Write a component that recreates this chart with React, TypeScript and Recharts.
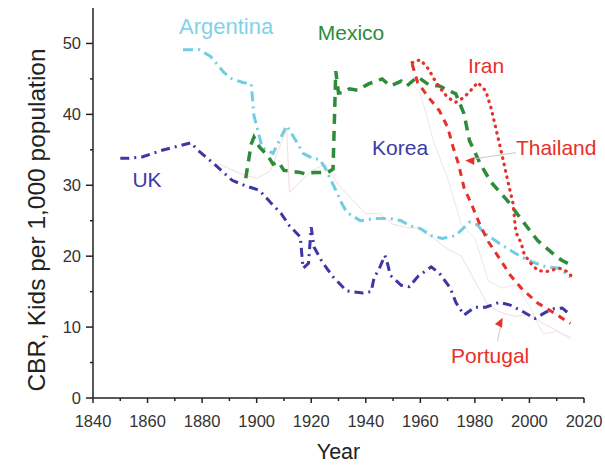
import { LineChart, Line, XAxis, YAxis, ReferenceDot, ReferenceLine } from "recharts";

const ukYears = [1850, 1853, 1858, 1865, 1872, 1876, 1878, 1885, 1891, 1896, 1901, 1905, 1909, 1912, 1916, 1917, 1919, 1920, 1921, 1924, 1928, 1933, 1939, 1942, 1943, 1945, 1947, 1948, 1949, 1953, 1956, 1959, 1964, 1967, 1971, 1973, 1976, 1980, 1984, 1989, 1993, 1998, 2002, 2006, 2009, 2012, 2015];
const ukValues = [33.8, 33.8, 34.0, 34.9, 35.6, 36.0, 35.1, 32.8, 30.7, 29.9, 29.3, 27.6, 26.0, 24.3, 22.7, 18.3, 19.0, 24.1, 21.3, 19.2, 17.1, 15.1, 14.8, 15.0, 16.9, 18.3, 20.1, 18.9, 17.3, 15.9, 15.7, 17.1, 18.5, 17.6, 15.5, 13.5, 11.7, 12.8, 12.8, 13.5, 13.1, 12.1, 11.2, 12.1, 12.6, 12.7, 11.7];

const argYears = [1873, 1879, 1883, 1885, 1888, 1891, 1895, 1898, 1899, 1900, 1902, 1906, 1911, 1915, 1917, 1921, 1923, 1925, 1929, 1931, 1933, 1938, 1943, 1946, 1949, 1953, 1956, 1960, 1964, 1968, 1973, 1978, 1981, 1983, 1989, 1994, 1997, 2001, 2006, 2011, 2015];
const argValues = [49.1, 49.1, 48.2, 47.3, 45.9, 45.0, 44.5, 44.3, 39.8, 38.4, 35.3, 34.5, 38.4, 35.9, 34.5, 33.7, 33.7, 32.5, 29.3, 27.6, 26.2, 25.0, 25.3, 25.3, 25.3, 25.0, 24.3, 23.9, 22.9, 22.5, 22.9, 24.8, 24.4, 23.4, 21.8, 20.6, 19.9, 19.2, 18.5, 18.3, 17.0];

const mexYears = [1896, 1898, 1899, 1901, 1904, 1906, 1908, 1910, 1916, 1918, 1921, 1926, 1928, 1929, 1930, 1932, 1934, 1937, 1941, 1944, 1946, 1949, 1953, 1955, 1959, 1963, 1967, 1973, 1976, 1978, 1982, 1986, 1992, 1997, 2003, 2010, 2012, 2015];
const mexValues = [31.0, 35.8, 36.8, 35.4, 34.2, 33.0, 33.3, 32.1, 31.8, 31.6, 31.8, 31.8, 32.3, 46.1, 43.0, 43.1, 43.6, 43.4, 44.3, 44.7, 45.0, 44.0, 44.7, 44.0, 45.3, 44.2, 44.0, 42.9, 40.1, 36.3, 33.0, 30.4, 27.8, 25.2, 22.2, 19.9, 19.4, 18.8];

const iranYears = [1957, 1960, 1963, 1965, 1967, 1970, 1973, 1976, 1979, 1981, 1984, 1986, 1988, 1990, 1992, 1994, 1995, 1997, 1998, 2000, 2003, 2006, 2011, 2014, 2016];
const iranValues = [47.3, 47.7, 46.4, 45.0, 43.8, 42.4, 41.7, 42.4, 43.6, 44.5, 43.3, 40.8, 37.5, 34.2, 30.7, 27.4, 23.4, 21.8, 20.4, 19.2, 18.0, 17.8, 18.3, 17.8, 16.9];

const thaiYears = [1957, 1959, 1963, 1967, 1970, 1972, 1974, 1976, 1979, 1982, 1985, 1989, 1993, 1997, 2003, 2009, 2015];
const thaiValues = [47.1, 44.5, 42.4, 40.5, 38.2, 35.4, 33.0, 29.7, 27.1, 24.3, 22.0, 19.7, 17.3, 15.5, 13.4, 12.0, 10.5];

const portYears = [1886, 1895, 1900, 1905, 1911, 1912, 1920, 1925, 1930, 1935, 1940, 1945, 1950, 1955, 1960, 1965, 1970, 1975, 1980, 1985, 1990, 1995, 2000, 2005, 2010, 2015];
const portValues = [33.0, 31.5, 31.0, 32.0, 38.0, 29.0, 32.0, 33.0, 30.0, 28.0, 26.0, 26.0, 24.5, 24.0, 24.0, 22.5, 21.0, 20.0, 16.5, 13.0, 12.0, 11.5, 11.8, 10.5, 9.5, 8.3];

const korYears = [1955, 1960, 1965, 1970, 1975, 1980, 1985, 1990, 1995, 2000, 2005, 2010, 2015];
const korValues = [45.0, 43.0, 36.0, 31.0, 24.5, 22.5, 16.5, 15.5, 16.0, 13.0, 9.0, 9.4, 8.6];

const xTicks = [1840, 1850, 1860, 1870, 1880, 1890, 1900, 1910, 1920, 1930, 1940, 1950, 1960, 1970, 1980, 1990, 2000, 2010, 2020];
const yTicks = [0, 5, 10, 15, 20, 25, 30, 35, 40, 45, 50];

const labels = [
  { text: "Argentina", year: 1888.8, value: 52.3, color: "#7fd2e8", size: 22 },
  { text: "Mexico", year: 1934.6, value: 51.5, color: "#2e8b3a", size: 21 },
  { text: "Iran", year: 1984.1, value: 46.8, color: "#e8302a", size: 21 },
  { text: "Korea", year: 1952.6, value: 35.3, color: "#3c3aa8", size: 21 },
  { text: "Thailand", year: 2009.8, value: 35.3, color: "#e8302a", size: 21 },
  { text: "UK", year: 1859.8, value: 30.7, color: "#3c3aa8", size: 21 },
  { text: "Portugal", year: 1985.6, value: 5.9, color: "#e8302a", size: 21 },
];

const toData = (years: number[], values: number[]) =>
  years.map((year, i) => ({ year, value: values[i] }));

const FONT = "'Liberation Sans', Arial, sans-serif";

function XTick(props: any) {
  const { x, y, payload } = props;
  const major = payload.value % 20 === 0;
  return (
    <g>
      <line x1={x} y1={y} x2={x} y2={y + (major ? 5 : 3)} stroke="#222" strokeWidth={1.5} />
      {major && (
        <text x={x} y={y + 29} textAnchor="middle" fontSize={16.5} fill="#333" fontFamily={FONT}>
          {payload.value}
        </text>
      )}
    </g>
  );
}

function YTick(props: any) {
  const { x, y, payload } = props;
  const major = payload.value % 10 === 0;
  return (
    <g>
      <line x1={x} y1={y} x2={x - (major ? 7 : 3)} y2={y} stroke="#222" strokeWidth={1.5} />
      {major && (
        <text x={x - 12} y={y + 6} textAnchor="end" fontSize={16.5} fill="#333" fontFamily={FONT}>
          {payload.value}
        </text>
      )}
    </g>
  );
}

const arrowHead = (color: string, angle: number) => (p: any) => (
  <polygon
    points="0,0 -9,-4 -9,4"
    fill={color}
    transform={`translate(${p.cx},${p.cy}) rotate(${angle})`}
  />
);

export default function App() {
  return (
    <div style={{ position: "absolute", left: 0, top: 0, background: "#fff" }}>
      <LineChart width={605} height={466} margin={{ top: 8, right: 21, bottom: 0, left: 0 }}>
        <XAxis
          dataKey="year"
          type="number"
          domain={[1840, 2020]}
          ticks={xTicks}
          interval={0}
          allowDuplicatedCategory={false}
          tickLine={false}
          tickSize={0}
          tickMargin={0}
          tick={<XTick />}
          height={68}
          axisLine={{ stroke: "#222", strokeWidth: 1.5 }}
          label={{ value: "Year", position: "insideBottom", offset: 7, fontSize: 21.5, fill: "#222", fontFamily: FONT }}
        />
        <YAxis
          type="number"
          domain={[0, 55]}
          ticks={yTicks}
          interval={0}
          tickLine={false}
          tickSize={0}
          tickMargin={0}
          tick={<YTick />}
          width={93}
          axisLine={{ stroke: "#222", strokeWidth: 1.5 }}
          label={{
            value: "CBR, Kids per 1,000 population",
            angle: -90,
            position: "insideLeft",
            dx: 31,
            dy: 17,
            style: { textAnchor: "middle" },
            fontSize: 24.5,
            fill: "#222",
            fontFamily: FONT,
          }}
        />
        <Line data={toData(portYears, portValues)} dataKey="value" stroke="#f6dcdc" strokeWidth={1} dot={false} isAnimationActive={false} />
        <Line data={toData(korYears, korValues)} dataKey="value" stroke="#ece6ec" strokeWidth={1} dot={false} isAnimationActive={false} />
        <Line data={toData(argYears, argValues)} dataKey="value" stroke="#6fcde4" strokeWidth={3} strokeDasharray="10 5 2 5" dot={false} isAnimationActive={false} />
        <Line data={toData(mexYears, mexValues)} dataKey="value" stroke="#2e8b3a" strokeWidth={3.5} strokeDasharray="10 7" dot={false} isAnimationActive={false} />
        <Line data={toData(ukYears, ukValues)} dataKey="value" stroke="#3c36a6" strokeWidth={3} strokeDasharray="9 5 2 5" dot={false} isAnimationActive={false} />
        <Line data={toData(thaiYears, thaiValues)} dataKey="value" stroke="#e8302a" strokeWidth={3} strokeDasharray="7 6" dot={false} isAnimationActive={false} />
        <Line data={toData(iranYears, iranValues)} dataKey="value" stroke="#e8302a" strokeWidth={3.2} strokeDasharray="0.5 6" strokeLinecap="round" dot={false} isAnimationActive={false} />
        <ReferenceLine segment={[{ x: 1995, y: 34.6 }, { x: 1977.5, y: 33.6 }]} stroke="#c8c8c8" strokeWidth={1} />
        <ReferenceDot x={1976.5} y={33.5} r={0} shape={arrowHead("#e8302a", 183)} />
        <ReferenceLine segment={[{ x: 1988.3, y: 8.0 }, { x: 1989.6, y: 10.5 }]} stroke="#c8c8c8" strokeWidth={1} />
        <ReferenceDot x={1990.2} y={11.3} r={0} shape={arrowHead("#e8302a", -62)} />
        {labels.map((l) => (
          <ReferenceDot
            key={l.text}
            x={l.year}
            y={l.value}
            r={0}
            shape={(p: any) => (
              <text x={p.cx} y={p.cy + 7} textAnchor="middle" fontSize={l.size} fill={l.color} fontFamily={FONT}>
                {l.text}
              </text>
            )}
          />
        ))}
      </LineChart>
    </div>
  );
}
